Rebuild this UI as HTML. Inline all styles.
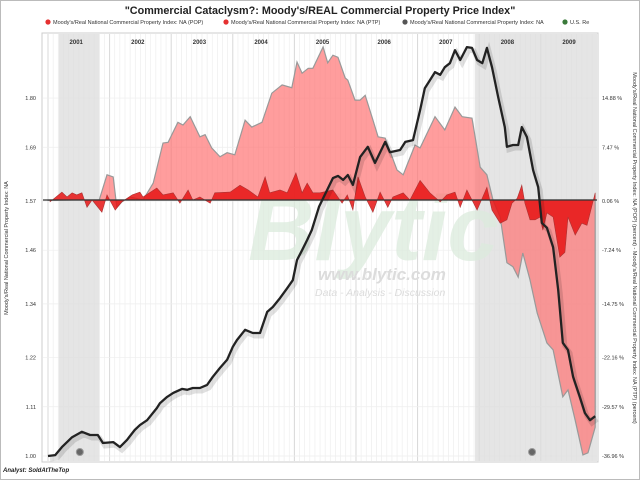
<!DOCTYPE html>
<html><head><meta charset="utf-8"><style>
html,body{margin:0;padding:0;background:#fff}
svg{display:block;font-family:"Liberation Sans",sans-serif}
</style></head><body>
<svg id="c" width="640" height="480" xmlns="http://www.w3.org/2000/svg">
<rect x="0.5" y="0.5" width="639" height="479" fill="#fff" stroke="#bbb"/>
<text x="320" y="14" text-anchor="middle" font-size="10.8" font-weight="bold" fill="#222">"Commercial Cataclysm?: Moody's/REAL Commercial Property Price Index"</text>
<g font-size="5.5" fill="#333">
<g><circle cx="48" cy="22" r="2.6" fill="#e53030"/><text x="53" y="24">Moody's/Real National Commercial Property Index: NA (POP)</text></g>
<g><circle cx="226" cy="22" r="2.6" fill="#e53030"/><text x="231" y="24">Moody's/Real National Commercial Property Index: NA (PTP)</text></g>
<g><circle cx="405" cy="22" r="2.6" fill="#555"/><text x="410" y="24">Moody's/Real National Commercial Property Index: NA</text></g>
<g><circle cx="565" cy="22" r="2.6" fill="#3a7a3a"/><text x="570" y="24">U.S. Re</text></g>
</g>
<rect x="42" y="33" width="556" height="429" fill="#fff" stroke="#ccc"/>
<g id="grid"></g>
<g id="shade"></g>
<g>
<text x="248" y="260" font-size="92" font-weight="bold" font-style="italic" fill="#dcebdd" opacity="0.75">Blytic</text>
<text x="318" y="280" font-size="17" font-weight="bold" font-style="italic" fill="#dcdcdc">www.blytic.com</text>
<text x="315" y="296" font-size="10.5" font-style="italic" fill="#dcdcdc">Data - Analysis - Discussion</text>
</g>
<g id="series"></g>
<g id="axes"></g>
<text transform="translate(8,248) rotate(-90)" text-anchor="middle" font-size="5.5" fill="#333">Moody's/Real National Commercial Property Index: NA</text>
<text transform="translate(633,248) rotate(90)" text-anchor="middle" font-size="5.5" fill="#333">Moody's/Real National Commercial Property Index: NA (POP) (percent) - Moody's/Real National Commercial Property Index: NA (PTP) (percent)</text>
<text x="3" y="472" font-size="6" font-weight="bold" font-style="italic" fill="#222">Analyst: SoldAtTheTop</text>
</svg>
<script>
// months since Jan 2001
const years=["2001","2002","2003","2004","2005","2006","2007","2008","2009"];
const leftTicks=[1.00,1.11,1.22,1.34,1.46,1.57,1.69,1.80];
const rightTicks=["-36.96 %","-29.57 %","-22.16 %","-14.75 %","-7.24 %","0.06 %","7.47 %","14.88 %"];
const recessions=[[2.1,10.0],[83.2,108.5]];
const idxMonths=[0,1.4,2.7,4.7,6.6,8.2,9.7,10.7,12.7,14.0,15.4,16.9,17.9,19.3,21.2,21.8,23.2,24.4,26.1,27.1,28.2,29.6,31.0,32.1,33.5,34.9,36.0,36.8,38.4,39.9,41.3,42.7,43.8,45.2,46.6,47.7,48.5,49.5,50.5,51.4,52.8,55.5,56.5,57.5,58.4,59.4,60.8,62.3,63.7,65.7,66.6,68.6,69.6,71.1,72.5,73.4,74.4,75.4,76.4,77.3,78.3,79.3,80.3,81.6,82.6,83.6,84.6,85.5,86.5,87.7,89.0,89.4,90.6,91.6,92.3,93.3,94.5,95.5,96.2,97.2,98.4,99.4,100.3,101.3,102.3,103.6,104.6,105.6,106.6];
const idxValues=[1.000,1.002,1.020,1.042,1.054,1.047,1.047,1.029,1.031,1.020,1.036,1.058,1.069,1.080,1.107,1.118,1.132,1.141,1.150,1.148,1.152,1.152,1.159,1.177,1.197,1.215,1.244,1.259,1.282,1.275,1.275,1.322,1.333,1.353,1.375,1.393,1.438,1.460,1.483,1.505,1.557,1.621,1.626,1.617,1.628,1.606,1.668,1.691,1.655,1.702,1.679,1.684,1.702,1.706,1.773,1.822,1.840,1.858,1.852,1.869,1.878,1.907,1.885,1.914,1.912,1.885,1.878,1.912,1.869,1.802,1.735,1.691,1.695,1.695,1.735,1.713,1.639,1.601,1.521,1.510,1.467,1.371,1.253,1.237,1.177,1.132,1.096,1.080,1.089];
const ptpMonths=[0,10,11.5,12.7,13.4,14.4,16,18.5,20.5,22.4,23.4,25.3,26.3,27.7,29.6,30.6,31.9,33.5,34.9,36.4,38.4,39.7,41.7,43.6,45.6,47.5,48.5,49.5,50.7,51.6,53.6,54.5,55.5,56.5,57.9,58.4,59.8,60.8,61.8,63.1,64.3,65.7,68.0,69.2,70.1,71.5,72.5,75.4,77.3,79.3,80.7,82.6,84.2,85.5,86.7,88.1,89.4,90.6,91.6,92.5,93.9,95.3,97.2,98.4,100.3,101.3,102.7,104.2,105.2,106.6];
const ptpValues=[0,0.1,3.7,3.4,-1.0,-0.2,0.5,0.06,2.5,8.3,8.4,11.3,10.9,12.1,9.2,9.5,7.6,6.3,6.9,6.6,11.6,10.6,11.3,15.5,16.7,16.3,20.0,18.4,19.1,19.1,22.2,19.9,21.0,20.7,17.7,17.4,14.5,14.5,15.2,12.1,9.2,9.0,4.4,3.7,5.4,8.0,7.6,12.1,10.2,13.5,12.1,11.9,4.8,3.7,0.06,-2.4,-9.0,-9.6,-11.1,-7.6,-11.5,-16.3,-20.6,-21.6,-28.4,-27.4,-31.8,-36.8,-36.5,-32.8];
const popMonths=[0.4,2.7,3.7,4.7,5.6,6.6,7.6,8.6,10.5,11.5,13.1,14.4,16.4,17.9,18.5,21.2,22.4,24.4,25.7,27.3,28.2,29.6,31.6,32.5,35.5,37.4,39.0,40.9,42.3,43.2,45.2,46.6,48.3,49.5,50.5,51.6,53.0,55.5,57.3,58.3,59.4,60.4,61.8,63.3,64.7,66.2,67.2,69.2,70.5,72.5,74.4,76.4,77.7,79.3,80.3,81.6,83.6,85.5,86.5,88.1,89.4,90.4,91.4,92.3,92.9,93.9,94.9,95.9,96.4,97.2,98.4,99.7,100.7,101.3,102.7,104.0,105.0,106.6];
const popValues=[-0.2,1.2,0.5,1.1,0.8,1.1,-1.0,0.06,-1.7,0.8,-1.4,-0.2,0.8,1.2,0.5,1.8,0.8,1.1,-0.4,1.5,0.06,0.5,-0.4,1.1,1.2,2.2,1.5,0.5,3.4,1.1,1.5,1.1,4.0,1.1,2.5,1.1,1.1,1.5,-0.4,0.8,-1.4,3.4,0.5,-1.7,1.2,-1.0,0.5,1.1,0.06,2.9,1.1,-0.2,0.8,1.2,-1.0,1.5,-1.4,1.9,-1.4,-3.3,-2.8,-0.4,0.3,2.2,-0.4,-2.8,-2.8,-2.4,-4.3,-1.8,-2.4,-8.2,-7.5,-2.4,-5.0,-3.3,-3.6,1.1];
const markerMonths=[6.2,94.3];

const NS="http://www.w3.org/2000/svg";
const X=m=>48+m*5.133;
const YL=v=>456-(v-1.0)/0.002235;
const YR=p=>200-(p-0.06)/0.1446;
function mk(tag,attrs,parent){const e=document.createElementNS(NS,tag);for(const k in attrs)e.setAttribute(k,attrs[k]);parent.appendChild(e);return e;}
const grid=document.getElementById('grid'),shade=document.getElementById('shade'),series=document.getElementById('series'),axes=document.getElementById('axes');
for(let m=-2;m<=109;m++){const x=X(m);if(x<43||x>597)continue;
 const l=mk('line',{x1:x,x2:x,y1:34,y2:461,stroke:m%12===0?'#d8d8d8':'#eeeeee','stroke-width':m%12===0?1:0.7},grid);
 
 }
leftTicks.forEach(v=>{const l=mk('line',{x1:43,x2:597,y1:YL(v),y2:YL(v),stroke:'#eeeeee','stroke-width':0.7},grid);
 
 });
recessions.forEach(r=>{const x1=Math.max(43,X(r[0])),x2=Math.min(597,X(r[1]));
 const e=mk('rect',{x:x1,y:34,width:x2-x1,height:427,fill:'#dcdcdc',opacity:0.75},shade);
 
 });
years.forEach((y,i)=>{const t=mk('text',{x:X(i*12+5.5),y:44,'text-anchor':'middle','font-size':6,'font-weight':'bold',fill:'#333'},axes);t.textContent=y;
 
 });
leftTicks.forEach(v=>{const t=mk('text',{x:36,y:YL(v)+2,'text-anchor':'end','font-size':5.5,fill:'#333'},axes);t.textContent=v.toFixed(2);
 
 });
rightTicks.forEach((s,i)=>{const t=mk('text',{x:602,y:YL(leftTicks[i])+2,'font-size':5.5,fill:'#333'},axes);t.textContent=s;
 
 });
function area(ms,vs){let d='M'+X(ms[0])+','+YR(0.06);ms.forEach((m,i)=>d+='L'+X(m).toFixed(1)+','+YR(vs[i]).toFixed(1));d+='L'+X(ms[ms.length-1])+','+YR(0.06)+'Z';return d;}
function line(ms,vs,Y){return ms.map((m,i)=>(i?'L':'M')+X(m).toFixed(1)+','+Y(vs[i]).toFixed(1)).join('');}
const a1=mk('path',{d:area(ptpMonths,ptpValues),fill:'rgba(255,110,110,0.68)',stroke:'#999','stroke-width':1.2},series);


const a2=mk('path',{d:area(popMonths,popValues),fill:'rgba(230,20,20,0.85)',stroke:'#a33','stroke-width':0.6},series);


const z=mk('line',{x1:43,x2:597,y1:YR(0.06),y2:YR(0.06),stroke:'#333','stroke-width':1.2},series);


const sh=mk('path',{d:line(idxMonths,idxValues,YL),fill:'none',stroke:'rgba(0,0,0,0.12)','stroke-width':5,transform:'translate(2,3)'},series);


const ln=mk('path',{d:line(idxMonths,idxValues,YL),fill:'none',stroke:'#222','stroke-width':2.3,'stroke-linejoin':'round'},series);


markerMonths.forEach(m=>{const c=mk('circle',{cx:X(m),cy:452,r:3.5,fill:'#666',stroke:'#999'},series);
 
 });
</script>
</body></html>
